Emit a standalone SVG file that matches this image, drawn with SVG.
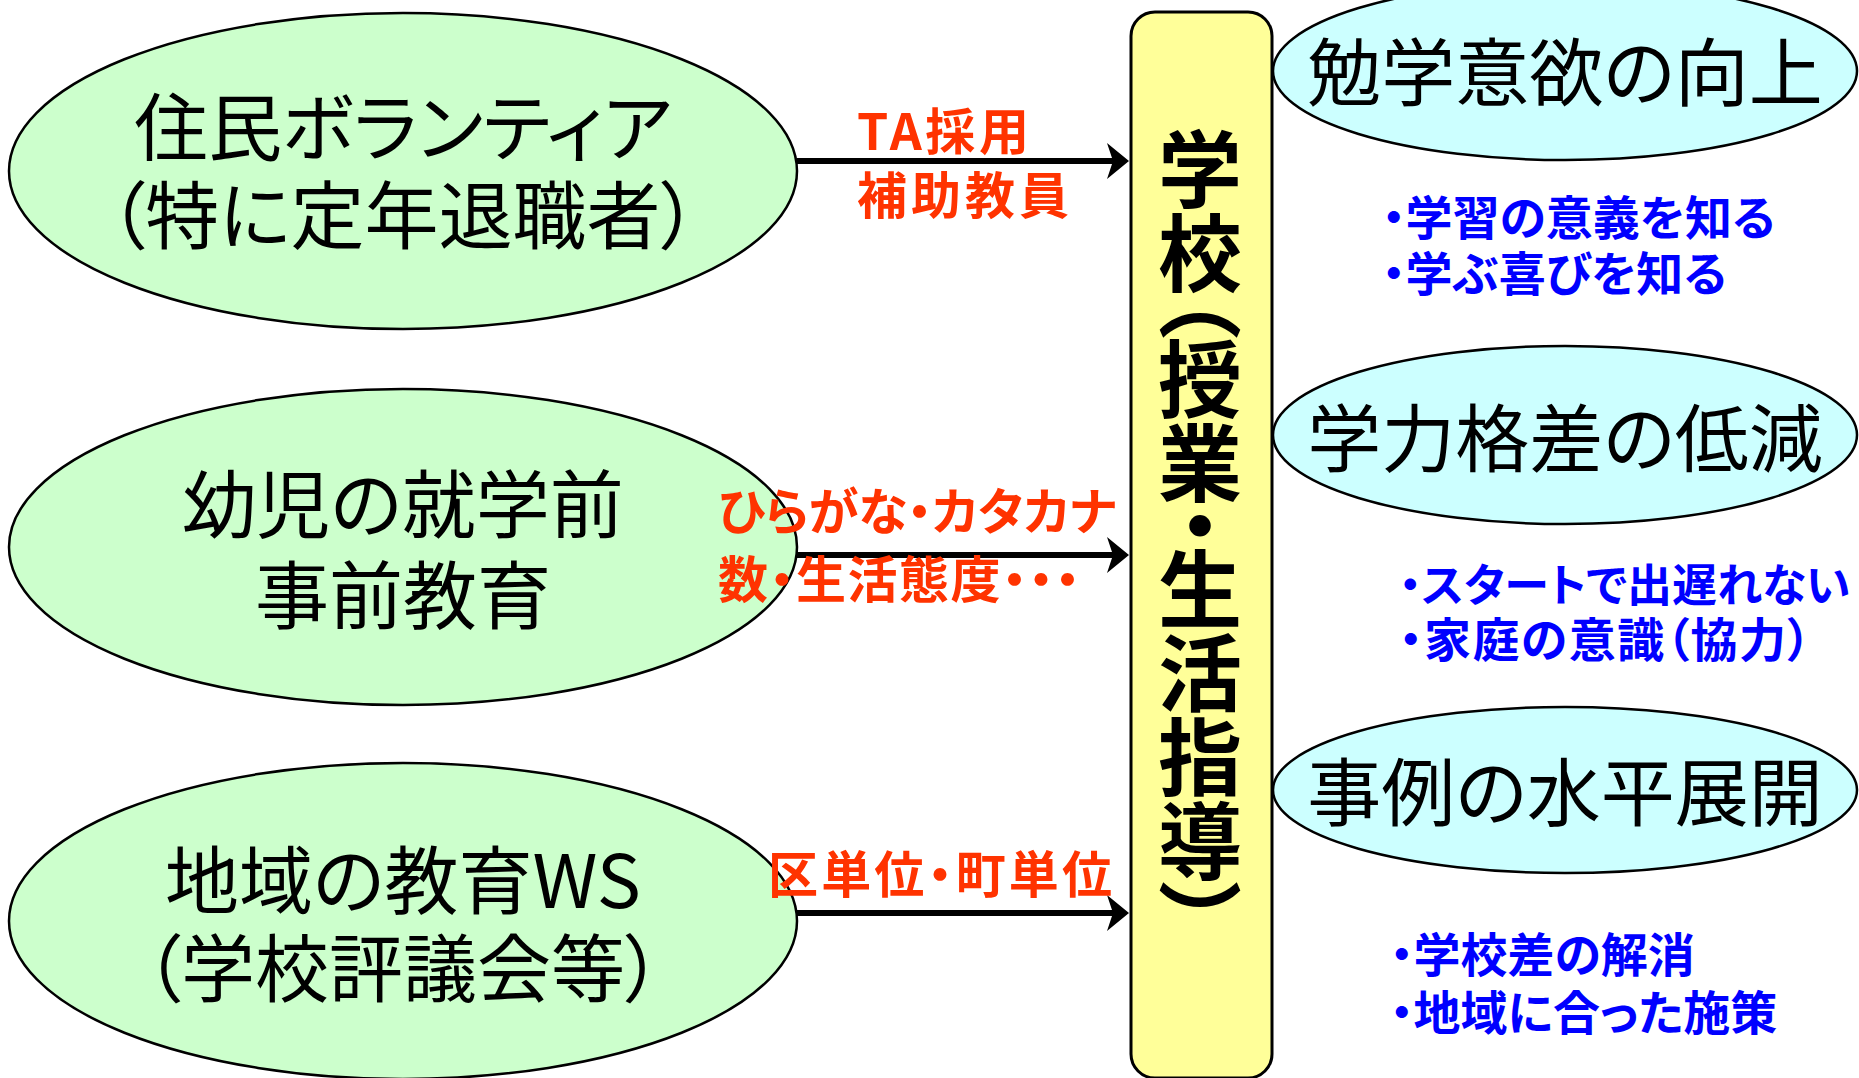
<svg xmlns="http://www.w3.org/2000/svg" width="1859" height="1078" viewBox="0 0 1859 1078">
<defs>
<style>
.bg{fill:#ffffff}
.lell{fill:#CCFFCC;stroke:#000;stroke-width:2.5}
.rell{fill:#CCFFFF;stroke:#000;stroke-width:2.5}
.box{fill:#FFFF99;stroke:#000;stroke-width:3}
.big{font-family:"Noto Sans CJK JP","Noto Sans CJK SC",sans-serif;font-size:74px;fill:#000;text-anchor:middle;font-feature-settings:"palt"}
.red{font-family:"Noto Sans CJK JP","Noto Sans CJK SC",sans-serif;font-size:50px;font-weight:bold;fill:#FF3300;font-feature-settings:"palt"}
.blue{font-family:"Noto Sans CJK JP","Noto Sans CJK SC",sans-serif;font-size:47px;font-weight:bold;fill:#0000FF;font-feature-settings:"palt"}
.vert{font-family:"Noto Sans CJK JP","Noto Sans CJK SC",sans-serif;font-size:84px;font-weight:bold;fill:#000;writing-mode:vertical-rl;font-feature-settings:"vpal"}
.conn{stroke:#000;stroke-width:6;fill:none}
</style>
<marker id="arr" markerUnits="userSpaceOnUse" markerWidth="30" markerHeight="40" viewBox="-24 -20 26 40" refX="-16" refY="0" orient="auto">
<path d="M0,0 L-22,-18 L-16,0 L-22,18 Z" fill="#000"/>
</marker>
</defs>
<rect class="bg" x="0" y="0" width="1859" height="1078"/>

<g id="connectors">
<line class="conn" x1="797" y1="161" x2="1113" y2="161" marker-end="url(#arr)"/>
<line class="conn" x1="797" y1="555" x2="1113" y2="555" marker-end="url(#arr)"/>
<line class="conn" x1="797" y1="913" x2="1113" y2="913" marker-end="url(#arr)"/>
</g>

<g id="node-volunteer">
<ellipse class="lell" cx="403" cy="171" rx="394" ry="158"/>
<text class="big" x="403" y="155">住民ボランティア</text>
<text class="big" x="403" y="243">（特に定年退職者）</text>
</g>

<g id="node-preschool">
<ellipse class="lell" cx="403" cy="547" rx="394" ry="158"/>
<text class="big" x="403" y="532">幼児の就学前</text>
<text class="big" x="403" y="623">事前教育</text>
</g>

<g id="node-workshop">
<ellipse class="lell" cx="403" cy="921" rx="394" ry="158"/>
<text class="big" x="403" y="908">地域の教育WS</text>
<text class="big" x="403" y="996">（学校評議会等）</text>
</g>

<g id="labels-red">
<text class="red" x="857" y="150" textLength="172">TA採用</text>
<text class="red" x="857" y="214" textLength="212">補助教員</text>
<text class="red" x="718" y="530" textLength="398">ひらがな・カタカナ</text>
<text class="red" x="718" y="598" textLength="362">数・生活態度・・・</text>
<text class="red" x="768" y="893" textLength="344">区単位・町単位</text>
</g>

<g id="node-school">
<rect class="box" x="1131" y="12" width="141" height="1066" rx="24" ry="24"/>
<text class="vert" x="1200" y="127">学校（授業・生活指導）</text>
</g>

<g id="node-motivation">
<ellipse class="rell" cx="1565" cy="71" rx="292" ry="89"/>
<text class="big" x="1565" y="100">勉学意欲の向上</text>
</g>

<g id="node-gap">
<ellipse class="rell" cx="1565" cy="435" rx="292" ry="89"/>
<text class="big" x="1565" y="466">学力格差の低減</text>
</g>

<g id="node-spread">
<ellipse class="rell" cx="1565" cy="790" rx="292" ry="83"/>
<text class="big" x="1565" y="820">事例の水平展開</text>
</g>

<g id="notes-blue">
<text class="blue" x="1382" y="235">・学習の意義を知る</text>
<text class="blue" x="1382" y="291">・学ぶ喜びを知る</text>
<text class="blue" x="1399" y="602" style="font-size:45px">・スタートで出遅れない</text>
<text class="blue" x="1399" y="657" textLength="412">・家庭の意識（協力）</text>
<text class="blue" x="1390" y="972">・学校差の解消</text>
<text class="blue" x="1390" y="1030">・地域に合った施策</text>
</g>
</svg>
